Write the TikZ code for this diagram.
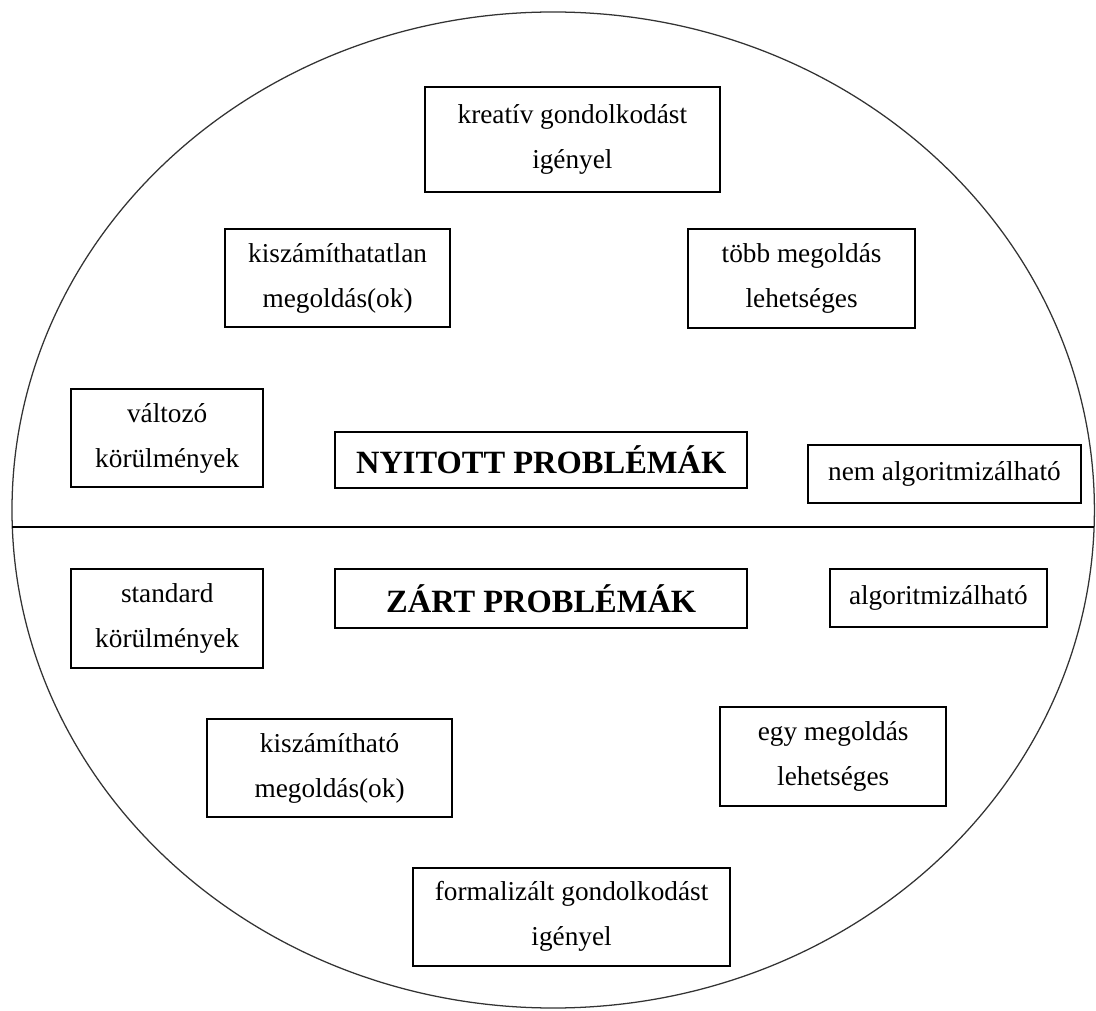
\documentclass[tikz,border=0pt]{standalone}
\usepackage{fontspec}
\setmainfont{Liberation Serif}

\begin{document}
\begin{tikzpicture}[
  every node/.style={font=\fontsize{19.4}{32}\selectfont},
  bx/.style={draw,line width=1.1pt,align=center,inner sep=0pt},
  tt/.style={bx,font=\fontsize{23.1}{28}\selectfont\bfseries},
  rim/.style={draw=black!80,line width=0.9pt}
]
\useasboundingbox (0,0) rectangle (27.4,25.25);
\draw[rim] (13.83,12.5) ellipse [x radius=13.53,y radius=12.45];
\coordinate (hl) at (0.31,12.075);
\coordinate (hr) at (27.34,12.075);
\draw[line width=1.1pt] (hl) -- (hr);
% upper half
\node[bx,minimum width=7.38cm,minimum height=2.63cm] (kreativ) at (14.31,21.76) {kreatív gondolkodást\\igényel};
\node[bx,minimum width=5.63cm,minimum height=2.45cm] (kiszatl) at (8.44,18.30) {kiszámíthatatlan\\megoldás(ok)};
\node[bx,minimum width=5.68cm,minimum height=2.48cm] (tobb) at (20.04,18.29) {több megoldás\\lehetséges};
\node[bx,minimum width=4.80cm,minimum height=2.45cm] (valtozo) at (4.18,14.30) {változó\\körülmények};
\node[tt,minimum width=10.30cm,minimum height=1.40cm] (nyitott) at (13.53,13.75) {NYITOTT PROBLÉMÁK};
\node[bx,minimum width=6.83cm,minimum height=1.45cm] (nemalg) at (23.61,13.40) {nem algoritmizálható};
% lower half
\node[bx,minimum width=4.80cm,minimum height=2.48cm] (standard) at (4.18,9.79) {standard\\körülmények};
\node[tt,minimum width=10.30cm,minimum height=1.48cm] (zart) at (13.53,10.29) {ZÁRT PROBLÉMÁK};
\node[bx,minimum width=5.43cm,minimum height=1.45cm] (alg) at (23.46,10.30) {algoritmizálható};
\node[bx,minimum width=6.13cm,minimum height=2.45cm] (kiszam) at (8.24,6.05) {kiszámítható\\megoldás(ok)};
\node[bx,minimum width=5.65cm,minimum height=2.48cm] (egy) at (20.83,6.34) {egy megoldás\\lehetséges};
\node[bx,minimum width=7.93cm,minimum height=2.45cm] (formal) at (14.29,2.33) {formalizált gondolkodást\\igényel};
\end{tikzpicture}
\end{document}
